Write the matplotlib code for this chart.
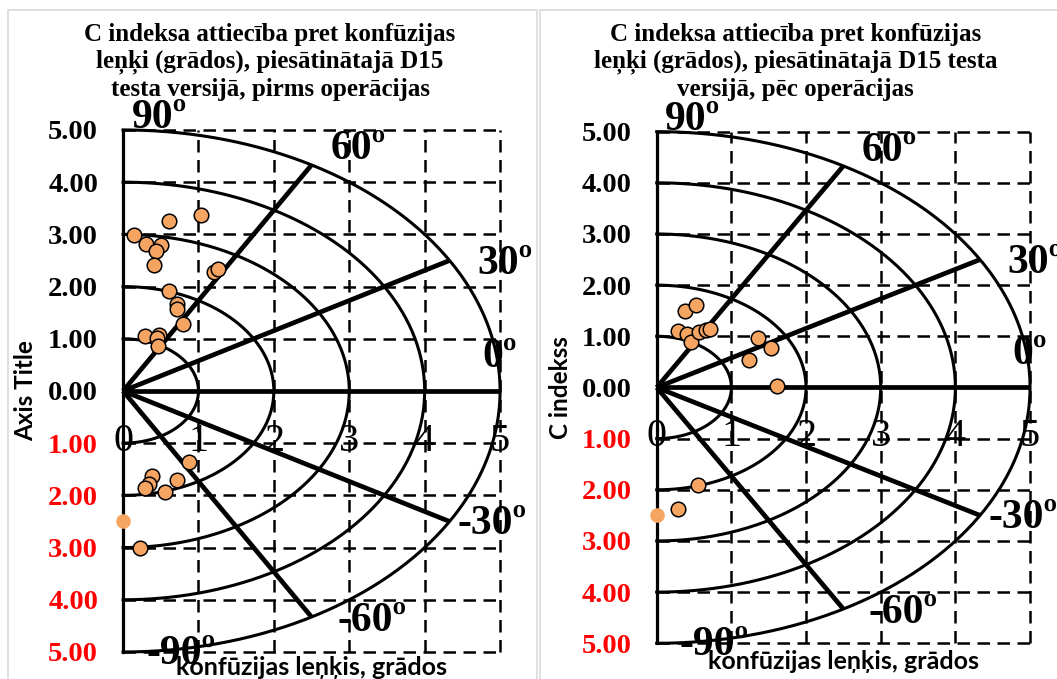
import numpy as np
import matplotlib
matplotlib.use("Agg")
import matplotlib.pyplot as plt
from matplotlib.patches import Rectangle

# values (x = C*cos(angle), y = C*sin(angle))
x_pre = [0.15, 0.61, 1.03, 0.31, 0.51, 0.44, 0.41, 1.21, 1.26, 0.61, 0.71, 0.72,
         0.79, 0.29, 0.48, 0.45, 0.47, 0.87, 0.39, 0.35, 0.29, 0.72, 0.56, 0.22]
y_pre = [2.98, 3.25, 3.37, 2.82, 2.80, 2.68, 2.42, 2.28, 2.33, 1.92, 1.67, 1.57,
         1.28, 1.06, 1.07, 1.01, 0.87, -1.37, -1.63, -1.79, -1.85, -1.71, -1.94, -3.01]

x_post = [0.38, 0.53, 0.28, 0.40, 0.46, 0.57, 0.66, 0.72, 1.36, 1.53, 1.24, 1.61, 0.55, 0.29]
y_post = [1.50, 1.62, 1.10, 1.05, 0.89, 1.09, 1.12, 1.14, 0.96, 0.78, 0.53, 0.03, -1.90, -2.38]

# second series (no outline)
x_extra = [0.0]
y_extra = [-2.5]

rings = [1, 2, 3, 4, 5]
spokes = [60, 30, 0, -30, -60]
ring_labels = ["0", "1", "2", "3", "4", "5"]
angle_labels = ["90º", "60º", "30º", "0º", "-30º", "-60º", "-90º"]
angle_label_pos = [(0.48, 5.23), (3.12, 4.63), (5.07, 2.44), (5.0, 0.65),
                   (4.9, -2.55), (3.3, -4.4), (0.77, -5.03)]
y_ticks = [5, 4, 3, 2, 1, 0, -1, -2, -3, -4, -5]

titles = ["C indeksa attiecība pret konfūzijas\nleņķi (grādos), piesātinātajā D15\ntesta versijā, pirms operācijas",
          "C indeksa attiecība pret konfūzijas\nleņķi (grādos), piesātinātajā D15 testa\nversijā, pēc operācijas"]
ylabels = ["Axis Title", "C indekss"]
xlabel = "konfūzijas leņķis, grādos"

orange = "#F5A462"
serif = "Liberation Serif"
sans = "Lato"

fig = plt.figure(figsize=(10.57, 6.79), dpi=100)

# chart area borders
fig.patches.append(Rectangle((0.0076, -0.1), 0.5002, 1.0853, transform=fig.transFigure,
                             fill=False, ec="#D9D9D9", lw=1.2))
fig.patches.append(Rectangle((0.511, -0.1), 0.6, 1.0853, transform=fig.transFigure,
                             fill=False, ec="#D9D9D9", lw=1.2))

ax1 = fig.add_axes([0.1164, 0.0398, 0.3567, 0.7688])
ax2 = fig.add_axes([0.6213, 0.0526, 0.3532, 0.7535])

theta = np.radians(np.linspace(-90, 90, 300))


def draw_panel(ax, xs, ys, ylab, xlab_y):
    ax.set_xlim(0, 5)
    ax.set_ylim(-5, 5)
    for s in ["top", "right", "bottom"]:
        ax.spines[s].set_visible(False)
    ax.spines["left"].set_linewidth(2.3)
    ax.spines["left"].set_zorder(4)

    ax.set_xticks(range(0, 6))
    ax.set_yticks(y_ticks)
    ax.set_yticklabels([f"{abs(v):.2f}" for v in y_ticks])
    for lab, v in zip(ax.get_yticklabels(), y_ticks):
        lab.set_color("red" if v < 0 else "black")
        lab.set_fontfamily(serif)
        lab.set_fontweight("bold")
        lab.set_fontsize(20.5)
    ax.tick_params(axis="x", length=0, labelbottom=False)
    ax.tick_params(axis="y", direction="in", length=5, width=1.5, pad=18)

    # dashed grid
    for gx in range(1, 6):
        ax.axvline(gx, color="k", lw=1.8, ls=(0, (5, 3)), zorder=1, clip_on=False)
    for gy in y_ticks:
        if gy != 0:
            ax.axhline(gy, color="k", lw=1.8, ls=(0, (5, 3)), zorder=1, clip_on=False)

    # rings and spokes
    for r in rings:
        ax.plot(r * np.cos(theta), r * np.sin(theta), color="k", lw=2.2, zorder=3, clip_on=False)
    for a in spokes:
        t = np.radians(a)
        ax.plot([0, 5 * np.cos(t)], [0, 5 * np.sin(t)], color="k", lw=3.4, zorder=3,
                clip_on=False, solid_capstyle="butt")

    # scale numbers and angle labels
    for i, lab in enumerate(ring_labels):
        ax.text(i, -0.96, lab, fontsize=29, family=serif, ha="center", va="center", zorder=2)
    for lab, (px, py) in zip(angle_labels, angle_label_pos):
        ax.text(px, py, lab, fontsize=30, family=serif, fontweight="bold",
                ha="center", va="center", zorder=6, clip_on=False)

    ax.plot(xs, ys, "o", ms=10.5, mfc=orange, mec="k", mew=1.1, zorder=5, clip_on=False)
    ax.plot(x_extra, y_extra, "o", ms=10.5, mfc=orange, mec=orange, mew=0, zorder=5, clip_on=False)

    ax.set_ylabel(ylab, fontsize=17.5, family=sans, fontweight="bold")
    ax.yaxis.set_label_coords(-0.228, 0.5)
    ax.text(2.5, xlab_y, xlabel, fontsize=18, family=sans, fontweight="bold",
            ha="center", va="baseline", clip_on=False, zorder=7)


draw_panel(ax1, x_pre, y_pre, ylabels[0], -5.44)
draw_panel(ax2, x_post, y_post, ylabels[1], -5.50)

fig.text(0.2555, 0.966, titles[0], fontsize=18, family=serif, fontweight="bold",
         ha="center", va="top", linespacing=1.2)
fig.text(0.7525, 0.966, titles[1], fontsize=18, family=serif, fontweight="bold",
         ha="center", va="top", linespacing=1.2)

fig.savefig("out.png", dpi=100)
